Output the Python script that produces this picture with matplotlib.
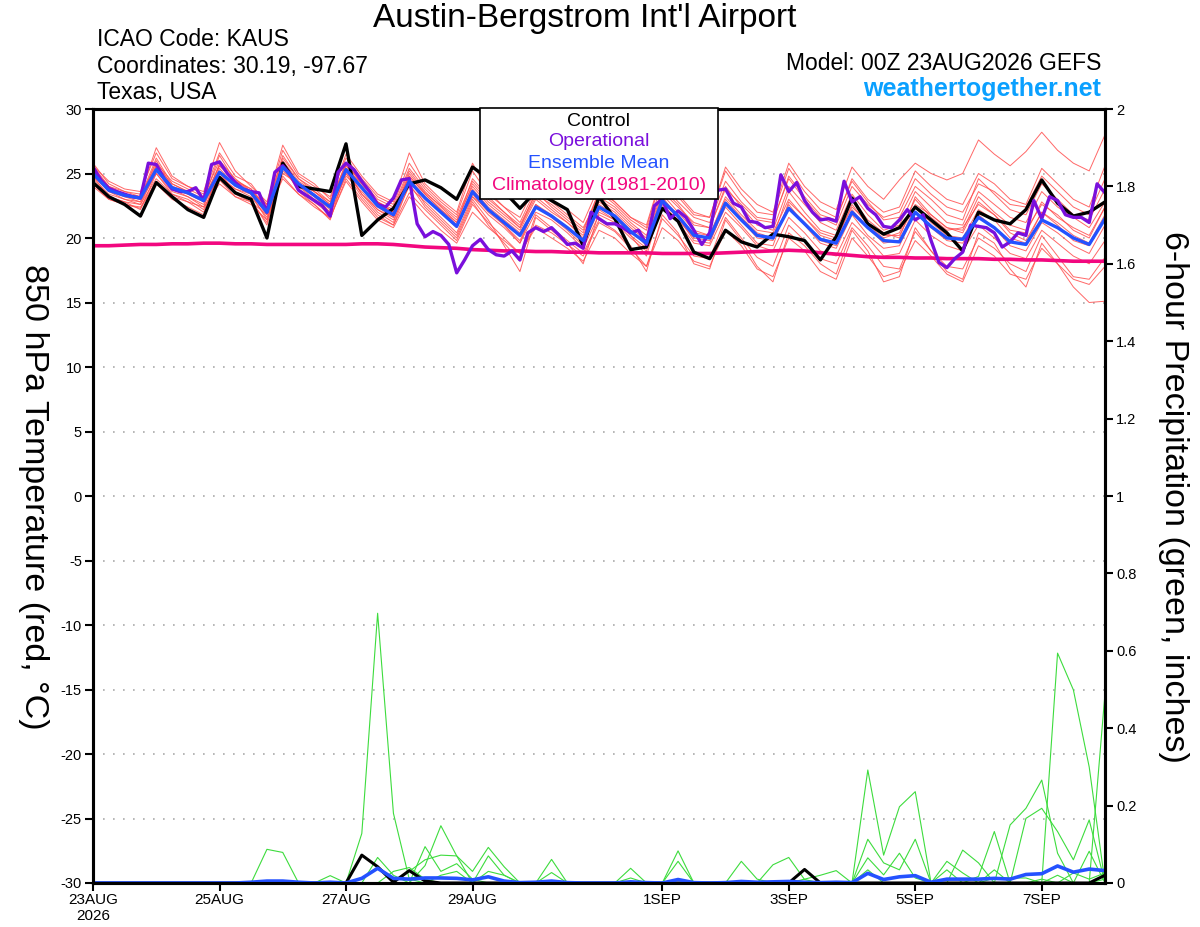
import numpy as np
import matplotlib.pyplot as plt
from matplotlib.patches import Rectangle

plt.rcParams['font.family'] = ['Liberation Sans', 'DejaVu Sans']

# forecast hours, 6-hourly (ensemble) and 3-hourly (operational)
hours = np.arange(0, 385, 6)
hours_op = np.arange(0, 385, 3)

# 850 hPa temperature (C)
control_t = [24.3, 23.2, 22.6, 21.7, 24.3, 23.2, 22.2, 21.6, 24.7, 23.5, 23.0, 20.0, 25.8, 24.0, 23.8, 23.6, 27.3,
             20.2, 21.4, 22.3, 24.2, 24.5, 23.9, 23.0, 25.5, 24.6, 23.6, 22.3, 23.6, 22.9, 22.2, 19.4, 23.2,
             21.5, 19.1, 19.3, 22.3, 21.3, 18.9, 18.4, 20.6, 19.7, 19.3, 20.3, 20.1, 19.8, 18.3, 20.1, 23.1,
             21.1, 20.3, 20.8, 22.4, 21.4, 20.4, 19.0, 22.0, 21.4, 21.1, 22.2, 24.5, 22.7, 21.7, 22.0, 22.8]

mean_t = [25.0, 23.7, 23.3, 23.1, 25.3, 23.9, 23.5, 22.9, 25.1, 24.1, 23.5, 22.0, 25.5, 24.2, 23.3, 22.4, 25.3,
          23.9, 22.5, 21.8, 24.4, 23.1, 22.0, 20.9, 23.6, 22.2, 21.2, 20.2, 22.4, 21.7, 20.8, 19.8, 22.4,
          21.7, 20.5, 19.6, 22.9, 21.7, 20.2, 20.0, 22.7, 21.4, 20.2, 20.0, 22.3, 21.1, 19.9, 19.6, 22.0,
          20.8, 19.8, 19.7, 22.0, 20.9, 20.0, 19.9, 21.6, 20.8, 19.7, 19.5, 21.4, 20.8, 20.0, 19.5, 21.5]

oper_t = [25.5, 24.5, 23.85, 23.6, 23.4, 23.2, 23.1, 25.8, 25.7, 24.6, 23.8, 23.6, 23.6, 23.9, 22.9, 25.7,
          25.9, 25.0, 24.3, 23.8, 23.6, 23.5, 22.0, 25.1, 25.6, 24.9, 23.7, 23.3, 22.9, 22.5, 21.7, 25.1,
          25.8, 25.3, 24.4, 23.6, 22.6, 22.4, 23.1, 24.5, 24.6, 21.1, 20.1, 20.5, 20.2, 19.5, 17.3, 18.3,
          19.4, 19.9, 19.1, 18.7, 18.6, 19.0, 18.3, 20.4, 20.8, 20.5, 20.8, 20.2, 19.5, 19.6, 19.2, 22.0,
          21.5, 21.1, 21.1, 20.8, 20.4, 20.6, 19.5, 22.5, 23.0, 21.5, 22.1, 21.6, 20.6, 19.5, 20.4, 23.7,
          23.8, 22.7, 22.4, 21.3, 21.2, 20.8, 20.9, 24.9, 23.6, 24.3, 22.9, 22.0, 21.4, 21.5, 21.3, 24.4,
          22.8, 23.2, 22.3, 21.8, 20.9, 20.8, 21.4, 22.2, 21.4, 21.8, 19.8, 18.1, 17.7, 18.4, 18.9, 21.0,
          20.9, 20.8, 20.4, 19.3, 19.7, 20.4, 20.2, 22.9, 21.5, 23.2, 22.9, 21.8, 21.6, 21.6, 21.2, 24.2,
          23.5]

clim_t = [19.4, 19.4, 19.45, 19.5, 19.5, 19.55, 19.55, 19.6, 19.6, 19.55, 19.55, 19.5, 19.5, 19.5, 19.5, 19.5, 19.5,
          19.55, 19.55, 19.5, 19.4, 19.3, 19.25, 19.2, 19.1, 19.05, 19.0, 19.0, 18.95, 18.95, 18.9, 18.9, 18.85,
          18.85, 18.85, 18.85, 18.8, 18.8, 18.8, 18.8, 18.85, 18.9, 18.95, 19.0, 19.05, 19.0, 18.85, 18.75, 18.65,
          18.55, 18.5, 18.5, 18.45, 18.45, 18.4, 18.4, 18.4, 18.35, 18.35, 18.3, 18.3, 18.25, 18.2, 18.2, 18.2]

# ensemble members (red)
mem01 = [25.8, 24.2, 23.6, 23.4, 27.0, 24.8, 24.0, 23.6, 27.4, 25.2, 24.0, 22.8, 27.2, 25.0, 24.2, 23.0, 26.5,
         24.8, 23.4, 22.8, 26.6, 24.2, 23.0, 22.0, 25.8, 23.6, 22.4, 21.6, 24.2, 23.0, 22.2, 21.2, 24.0,
         22.8, 21.6, 21.0, 25.0, 23.4, 22.0, 21.6, 25.5, 23.8, 22.6, 22.0, 25.8, 24.0, 22.8, 22.2, 25.5,
         24.0, 23.0, 24.5, 25.8, 25.0, 24.5, 25.0, 27.6, 26.5, 25.6, 26.7, 28.2, 26.8, 25.8, 25.2, 28.0]
mem02 = [24.0, 23.0, 22.6, 22.3, 24.2, 23.0, 22.4, 21.8, 24.5, 23.2, 22.6, 21.4, 24.8, 23.4, 22.6, 21.5, 24.6,
         23.0, 21.6, 21.0, 23.5, 22.2, 21.0, 19.8, 22.6, 21.2, 20.0, 18.8, 21.0, 20.4, 19.5, 18.6, 21.2,
         20.5, 19.2, 17.8, 21.5, 20.2, 18.6, 18.4, 21.6, 20.0, 18.5, 17.8, 21.0, 19.8, 18.4, 18.0, 20.8,
         19.4, 17.8, 17.6, 20.5, 19.0, 17.8, 17.6, 20.0, 19.2, 18.0, 17.4, 20.2, 18.6, 17.0, 16.8, 18.5]
mem03 = [25.2, 23.8, 23.4, 23.0, 26.0, 24.0, 23.6, 23.0, 25.6, 24.5, 23.8, 22.2, 26.4, 24.6, 23.6, 22.6, 25.8,
         24.2, 22.8, 22.0, 25.0, 23.5, 22.5, 21.4, 24.0, 22.6, 21.6, 20.6, 23.0, 22.0, 21.2, 20.0, 22.8,
         22.0, 20.8, 19.8, 23.4, 22.0, 20.6, 20.2, 23.2, 21.8, 20.6, 20.4, 23.0, 21.6, 20.2, 19.8, 22.6,
         21.0, 20.0, 20.4, 23.0, 21.6, 20.6, 20.8, 22.6, 21.8, 20.6, 20.4, 22.8, 21.6, 20.8, 20.2, 22.4]
mem04 = [24.6, 23.4, 23.0, 22.8, 25.0, 23.6, 23.2, 22.6, 24.8, 23.8, 23.2, 21.6, 25.2, 24.0, 23.0, 22.0, 24.8,
         23.6, 22.2, 21.4, 24.0, 22.8, 21.6, 20.4, 23.2, 21.8, 20.8, 19.6, 22.0, 21.4, 20.4, 19.2, 21.8,
         21.2, 20.0, 19.0, 22.4, 21.2, 19.6, 19.4, 22.0, 20.8, 19.4, 19.0, 21.6, 20.4, 19.0, 18.6, 21.2,
         20.0, 18.6, 18.8, 21.4, 20.2, 19.4, 19.0, 21.0, 20.0, 18.8, 18.4, 20.6, 19.6, 18.6, 18.0, 19.8]
mem05 = [25.4, 24.0, 23.4, 23.2, 25.8, 24.4, 23.8, 23.2, 26.0, 24.6, 23.6, 22.4, 26.0, 24.4, 23.6, 22.8, 25.6,
         24.4, 23.0, 22.4, 25.4, 23.8, 22.6, 21.6, 24.4, 23.0, 22.0, 21.0, 23.4, 22.6, 21.6, 20.6, 23.6,
         22.6, 21.4, 20.6, 24.2, 22.8, 21.6, 21.2, 24.4, 22.8, 21.6, 21.4, 24.6, 23.0, 21.6, 21.0, 24.0,
         22.6, 21.6, 22.0, 24.6, 23.4, 22.4, 22.0, 24.2, 23.6, 22.6, 22.4, 24.8, 23.6, 22.4, 21.8, 24.6]
mem06 = [24.8, 23.2, 22.8, 22.6, 24.6, 23.4, 23.0, 22.2, 25.0, 23.6, 23.0, 21.0, 25.4, 23.8, 22.8, 21.8, 25.0,
         23.2, 21.8, 21.0, 24.2, 22.4, 21.2, 20.0, 22.8, 21.0, 19.6, 18.2, 21.8, 20.8, 19.8, 18.8, 21.4,
         20.6, 19.4, 17.4, 21.8, 20.4, 18.0, 17.6, 21.4, 19.8, 17.8, 16.6, 20.4, 19.4, 18.0, 17.2, 20.6,
         19.0, 16.6, 17.0, 20.8, 19.0, 17.4, 16.8, 20.4, 19.6, 17.6, 16.2, 19.6, 18.0, 16.2, 15.0, 15.1]
mem07 = [25.6, 24.4, 23.8, 23.6, 26.6, 24.6, 24.0, 23.4, 26.6, 24.8, 24.2, 22.6, 26.8, 24.8, 24.0, 23.2, 26.2,
         24.6, 23.2, 22.6, 25.8, 24.0, 22.8, 21.8, 25.2, 23.4, 22.4, 21.2, 23.8, 22.8, 21.8, 20.8, 23.2,
         22.4, 21.2, 20.2, 23.8, 22.6, 21.0, 20.8, 24.0, 22.4, 21.0, 20.6, 24.0, 22.6, 21.2, 20.6, 23.4,
         21.8, 20.6, 21.0, 23.6, 22.4, 21.2, 21.0, 23.6, 22.6, 21.6, 21.2, 23.6, 22.4, 21.6, 20.8, 22.8]
mem08 = [24.4, 23.2, 22.8, 22.2, 25.0, 23.4, 22.8, 22.0, 25.2, 23.4, 22.8, 21.2, 25.6, 23.6, 22.6, 21.4, 25.2,
         23.4, 22.0, 21.2, 24.6, 22.6, 21.4, 20.2, 23.0, 21.4, 19.4, 17.4, 21.6, 20.6, 19.6, 18.0, 22.0,
         21.4, 20.2, 18.6, 22.8, 21.6, 19.8, 19.6, 22.6, 21.4, 20.0, 19.8, 22.6, 21.0, 19.6, 19.2, 21.8,
         20.2, 19.2, 19.4, 22.0, 20.8, 19.8, 19.6, 21.8, 20.8, 19.4, 19.0, 21.2, 20.4, 19.4, 18.8, 21.0]
mem09 = [25.0, 23.6, 23.2, 23.0, 25.4, 23.8, 23.4, 22.8, 24.6, 23.8, 23.4, 22.0, 25.0, 24.2, 23.4, 22.4, 25.0,
         23.8, 22.4, 21.6, 24.4, 23.0, 22.0, 21.0, 23.8, 22.4, 21.4, 20.4, 22.6, 21.8, 20.8, 19.8, 22.6,
         21.8, 20.6, 19.4, 23.0, 21.8, 20.2, 20.0, 22.8, 21.4, 20.2, 20.0, 22.4, 21.2, 19.8, 19.4, 22.2,
         20.8, 19.6, 19.8, 22.4, 21.2, 20.2, 20.0, 22.2, 21.4, 20.0, 19.6, 22.0, 21.0, 19.8, 19.4, 21.6]
mem10 = [25.2, 23.8, 23.2, 22.8, 25.6, 24.2, 23.6, 22.8, 25.4, 24.0, 23.4, 21.8, 25.8, 24.2, 23.2, 22.2, 25.6,
         24.0, 22.6, 22.0, 24.8, 23.4, 22.2, 21.2, 24.2, 22.8, 21.8, 20.8, 23.2, 22.2, 21.2, 20.2, 23.0,
         22.2, 21.0, 20.0, 23.6, 22.4, 21.2, 20.8, 23.8, 22.6, 21.4, 21.2, 24.8, 23.2, 21.8, 21.4, 24.6,
         23.0, 22.0, 22.4, 25.2, 24.0, 23.0, 22.6, 25.0, 24.2, 23.0, 22.6, 25.4, 24.2, 23.0, 22.4, 25.6]
mem11 = [24.2, 23.0, 22.6, 22.4, 24.4, 23.2, 22.8, 22.4, 24.2, 23.2, 22.8, 21.8, 24.6, 23.4, 22.4, 21.6, 24.4,
         22.8, 21.4, 20.8, 23.2, 21.8, 20.6, 19.6, 22.0, 20.8, 19.8, 18.8, 20.8, 20.0, 19.2, 18.2, 20.6,
         20.0, 18.8, 17.8, 20.8, 19.8, 18.2, 17.8, 20.6, 19.4, 17.6, 17.0, 20.0, 19.0, 17.4, 16.8, 20.0,
         18.6, 17.0, 17.4, 19.8, 18.6, 17.2, 16.6, 19.4, 18.6, 17.2, 16.8, 19.2, 18.0, 16.8, 16.4, 17.8]
mem12 = [25.4, 23.8, 23.4, 23.2, 26.2, 24.2, 23.6, 23.0, 26.4, 24.4, 23.6, 22.6, 26.2, 24.6, 23.8, 22.8, 25.8,
         24.2, 22.8, 22.2, 25.2, 23.6, 22.4, 21.2, 24.6, 23.2, 22.0, 20.8, 23.6, 22.4, 21.4, 20.4, 23.6,
         22.8, 21.6, 20.8, 24.8, 23.2, 21.8, 21.6, 25.2, 23.4, 22.0, 21.8, 25.4, 23.6, 22.2, 21.6, 24.4,
         22.8, 21.4, 21.6, 24.0, 23.0, 21.8, 21.4, 24.6, 23.4, 22.2, 21.8, 24.2, 23.0, 21.8, 21.4, 23.8]
mem13 = [24.8, 23.6, 23.0, 22.6, 25.2, 23.8, 23.2, 22.4, 25.8, 24.2, 23.4, 21.4, 25.4, 24.0, 23.2, 22.0, 25.4,
         23.4, 22.2, 21.6, 24.6, 23.2, 22.0, 20.8, 23.4, 22.0, 21.0, 19.8, 22.4, 21.6, 20.6, 19.4, 22.2,
         21.4, 20.2, 19.2, 22.6, 21.4, 20.0, 19.8, 22.4, 21.0, 19.6, 19.4, 22.8, 21.6, 20.4, 20.0, 22.4,
         21.2, 20.2, 20.2, 22.6, 21.8, 20.8, 20.4, 22.8, 21.8, 20.4, 19.8, 22.0, 21.2, 20.2, 19.6, 21.8]
mem14 = [25.6, 24.0, 23.6, 23.2, 25.6, 24.0, 23.4, 23.0, 25.6, 24.4, 23.8, 22.4, 25.6, 24.2, 23.6, 22.6, 25.4,
         24.2, 22.8, 22.0, 24.8, 23.4, 22.2, 21.0, 23.2, 22.2, 21.0, 19.6, 22.6, 21.6, 20.8, 19.6, 22.4,
         21.6, 20.4, 19.6, 23.2, 21.6, 20.4, 20.2, 23.0, 21.6, 20.4, 20.0, 23.6, 22.0, 20.6, 20.2, 23.0,
         21.4, 20.4, 20.0, 23.2, 21.8, 20.8, 20.6, 23.2, 22.0, 21.0, 20.6, 22.6, 21.8, 20.6, 20.0, 22.4]
members_t = [mem01, mem02, mem03, mem04, mem05, mem06, mem07,
             mem08, mem09, mem10, mem11, mem12, mem13, mem14]

# 6-hour precipitation (inches)
control_p = [0, 0, 0, 0, 0, 0, 0, 0, 0, 0, 0, 0, 0, 0, 0, 0, 0,
             0.072, 0.042, 0.002, 0.032, 0.005, 0, 0, 0, 0, 0, 0, 0, 0, 0, 0, 0,
             0, 0, 0, 0, 0, 0, 0, 0, 0, 0, 0, 0, 0.035, 0, 0, 0,
             0, 0, 0, 0, 0, 0, 0, 0, 0, 0, 0, 0, 0, 0, 0, 0.02]
mean_p = [0, 0, 0, 0, 0, 0, 0, 0, 0, 0, 0.002, 0.005, 0.005, 0.002, 0, 0.002, 0,
          0.012, 0.038, 0.012, 0.01, 0.013, 0.013, 0.012, 0.008, 0.016, 0.005, 0.001, 0.002, 0.005, 0.001, 0, 0,
          0, 0.003, 0.001, 0, 0.009, 0.001, 0, 0.001, 0.004, 0.002, 0.003, 0.004, 0.002, 0.001, 0.002, 0.001,
          0.025, 0.009, 0.016, 0.019, 0.002, 0.01, 0.01, 0.01, 0.012, 0.01, 0.022, 0.024, 0.044, 0.028, 0.036, 0.032]

pm01 = [0, 0, 0, 0, 0, 0, 0, 0, 0, 0, 0, 0.087, 0.079, 0, 0, 0, 0,
        0, 0, 0, 0, 0, 0, 0, 0, 0, 0, 0, 0, 0, 0, 0, 0,
        0, 0, 0, 0, 0, 0, 0, 0, 0, 0, 0, 0, 0, 0, 0, 0,
        0.292, 0.072, 0.197, 0.236, 0, 0, 0, 0, 0.034, 0, 0, 0, 0.594, 0.499, 0.30, 0]
pm02 = [0, 0, 0, 0, 0, 0, 0, 0, 0, 0, 0, 0, 0, 0, 0, 0.019, 0,
        0.128, 0.697, 0.18, 0.01, 0, 0, 0, 0, 0, 0, 0, 0, 0, 0, 0, 0,
        0, 0, 0, 0, 0, 0, 0, 0, 0, 0, 0, 0, 0, 0, 0, 0,
        0.113, 0.052, 0.034, 0.113, 0, 0, 0, 0, 0, 0, 0.167, 0.193, 0.133, 0.06, 0.163, 0]
pm03 = [0, 0, 0, 0, 0, 0, 0, 0, 0, 0, 0, 0, 0, 0, 0, 0, 0,
        0, 0.066, 0.02, 0, 0.045, 0.148, 0.07, 0, 0, 0, 0, 0, 0, 0, 0, 0,
        0, 0, 0, 0, 0, 0, 0, 0, 0, 0, 0, 0, 0, 0, 0, 0,
        0.065, 0.021, 0.077, 0.013, 0, 0, 0.085, 0.052, 0, 0, 0, 0, 0, 0, 0, 0.49]
pm04 = [0, 0, 0, 0, 0, 0, 0, 0, 0, 0, 0, 0, 0, 0, 0, 0, 0,
        0, 0, 0, 0, 0.094, 0.03, 0.05, 0.01, 0, 0, 0, 0, 0.061, 0, 0, 0,
        0, 0, 0, 0, 0, 0, 0, 0, 0, 0, 0, 0, 0, 0, 0, 0,
        0.034, 0, 0, 0, 0, 0.056, 0.026, 0, 0, 0.150, 0.193, 0.266, 0.077, 0, 0, 0]
pm05 = [0, 0, 0, 0, 0, 0, 0, 0, 0, 0, 0, 0, 0, 0, 0, 0, 0,
        0, 0, 0, 0.03, 0.06, 0.072, 0.07, 0.03, 0.092, 0.042, 0, 0, 0, 0, 0, 0,
        0, 0, 0, 0, 0, 0, 0, 0, 0, 0, 0, 0, 0, 0, 0, 0,
        0, 0, 0, 0, 0, 0.034, 0, 0.017, 0.133, 0, 0, 0, 0, 0, 0.082, 0]
pm06 = [0, 0, 0, 0, 0, 0, 0, 0, 0, 0, 0, 0, 0, 0, 0, 0, 0,
        0, 0, 0, 0, 0, 0, 0, 0, 0.07, 0.02, 0, 0, 0.027, 0, 0, 0,
        0, 0.038, 0, 0, 0, 0, 0, 0, 0, 0, 0, 0, 0, 0, 0, 0,
        0, 0, 0, 0, 0, 0, 0, 0, 0.013, 0.013, 0.013, 0, 0, 0.026, 0.01, 0.026]
pm07 = [0, 0, 0, 0, 0, 0, 0, 0, 0, 0, 0, 0, 0, 0, 0, 0, 0,
        0, 0, 0, 0, 0, 0, 0, 0, 0, 0, 0, 0, 0, 0, 0, 0,
        0, 0.013, 0, 0, 0.083, 0, 0, 0, 0, 0, 0, 0, 0, 0, 0, 0,
        0, 0, 0, 0, 0, 0, 0, 0, 0, 0, 0, 0.01, 0, 0, 0, 0.01]
pm08 = [0, 0, 0, 0, 0, 0, 0, 0, 0, 0, 0, 0, 0, 0, 0, 0, 0,
        0, 0, 0, 0, 0, 0, 0, 0, 0, 0, 0, 0, 0, 0, 0, 0,
        0, 0, 0, 0, 0.056, 0, 0, 0, 0.056, 0.01, 0, 0, 0, 0, 0, 0,
        0, 0, 0, 0, 0, 0, 0, 0, 0, 0, 0, 0, 0, 0, 0, 0]
pm09 = [0, 0, 0, 0, 0, 0, 0, 0, 0, 0, 0, 0, 0, 0, 0, 0, 0,
        0, 0, 0, 0, 0, 0, 0, 0, 0, 0, 0, 0, 0, 0, 0, 0,
        0, 0, 0, 0, 0, 0, 0, 0, 0, 0, 0.047, 0.066, 0.009, 0, 0, 0,
        0, 0, 0, 0, 0, 0, 0, 0, 0, 0, 0, 0, 0, 0, 0, 0]
pm10 = [0, 0, 0, 0, 0, 0, 0, 0, 0, 0, 0, 0, 0, 0, 0, 0, 0,
        0, 0, 0, 0, 0, 0, 0, 0, 0, 0, 0, 0, 0, 0, 0, 0,
        0, 0, 0, 0, 0, 0, 0, 0, 0, 0, 0, 0, 0.01, 0.02, 0.032, 0,
        0, 0, 0, 0, 0, 0, 0, 0, 0, 0, 0, 0, 0, 0, 0, 0]
pm11 = [0, 0, 0, 0, 0, 0, 0, 0, 0, 0, 0, 0, 0, 0, 0, 0, 0,
        0, 0, 0.03, 0.04, 0.01, 0, 0, 0, 0, 0, 0, 0, 0, 0, 0, 0,
        0, 0, 0, 0, 0, 0, 0, 0, 0, 0, 0, 0, 0, 0, 0, 0,
        0, 0, 0, 0, 0, 0, 0, 0, 0, 0, 0, 0, 0.02, 0, 0, 0]
pm12 = [0, 0, 0, 0, 0, 0, 0, 0, 0, 0, 0, 0, 0, 0, 0, 0, 0,
        0, 0, 0, 0, 0, 0.02, 0.03, 0, 0.03, 0.02, 0, 0, 0, 0, 0, 0,
        0, 0, 0, 0, 0, 0, 0, 0, 0, 0, 0, 0, 0, 0, 0, 0,
        0, 0, 0, 0, 0, 0, 0, 0, 0, 0, 0, 0, 0, 0, 0, 0]
members_p = [pm01, pm02, pm03, pm04, pm05, pm06, pm07, pm08, pm09, pm10, pm11, pm12]

# axis ticks
x_ticks = [0, 48, 96, 144, 216, 264, 312, 360]
x_labels = ['23AUG\n2026', '25AUG', '27AUG', '29AUG', '1SEP', '3SEP', '5SEP', '7SEP']
t_ticks = list(range(-30, 31, 5))
p_ticks = [0, 0.2, 0.4, 0.6, 0.8, 1, 1.2, 1.4, 1.6, 1.8, 2]
p_labels = ['0', '0.2', '0.4', '0.6', '0.8', '1', '1.2', '1.4', '1.6', '1.8', '2']

W, H = 1200, 927
fig = plt.figure(figsize=(W / 100, H / 100), dpi=100)
ax = fig.add_axes([93 / W, 1 - 883 / H, (1105 - 93) / W, (883 - 109) / H])

for m in members_t:
    ax.plot(hours, m, color='#ff4d4d', lw=0.7, alpha=0.85)
ax.plot(hours, clim_t, color='#f2077f', lw=2.6)
ax.plot(hours, control_t, color='black', lw=2.4)
ax.plot(hours_op, oper_t, color='#7a0fdc', lw=2.4)
ax.plot(hours, mean_t, color='#2452ff', lw=2.4)

ax.set_xlim(0, 384)
ax.set_ylim(-30, 30)
ax.set_yticks(t_ticks)
ax.set_yticklabels([str(t) for t in t_ticks])
ax.set_xticks(x_ticks)
ax.set_xticklabels(x_labels)
for y in t_ticks[1:-1]:
    ax.axhline(y, color='#aaaaaa', lw=1.2, ls=(0, (1, 5)), zorder=0)

ax2 = ax.twinx()
for m in members_p:
    ax2.plot(hours, m, color='#3ddc3d', lw=0.8)
ax2.plot(hours, control_p, color='black', lw=2.2)
ax2.plot(hours, mean_p, color='#2452ff', lw=2.6)
ax2.set_ylim(0, 2)
ax2.set_yticks(p_ticks)
ax2.set_yticklabels(p_labels)

for a in (ax, ax2):
    a.tick_params(axis='both', direction='out', length=6, width=1.5, labelsize=10.5, pad=2)
    for s in a.spines.values():
        s.set_linewidth(2.2)
ax.tick_params(axis='x', labelsize=11, pad=1)

# legend box
fig.add_artist(Rectangle((480 / W, 1 - 199 / H), 238 / W, 91 / H, transform=fig.transFigure,
                         facecolor='white', edgecolor='black', lw=1.2, zorder=5))
leg = [('Control', 'black', 121), ('Operational', '#7a0fdc', 142),
       ('Ensemble Mean', '#2452ff', 163), ('Climatology (1981-2010)', '#f2077f', 185)]
for txt, col, yy in leg:
    fig.text(599 / W, 1 - yy / H, txt, color=col, fontsize=14, ha='center', va='center', zorder=6)

# titles and labels
fig.text(585 / W, 1 - 19 / H, "Austin-Bergstrom Int'l Airport", fontsize=24, ha='center', va='center')
fig.text(97 / W, 1 - 40 / H, 'ICAO Code: KAUS', fontsize=16.5, ha='left', va='center')
fig.text(97 / W, 1 - 66 / H, 'Coordinates: 30.19, -97.67', fontsize=16.5, ha='left', va='center')
fig.text(97 / W, 1 - 93 / H, 'Texas, USA', fontsize=16.5, ha='left', va='center')
fig.text(1101 / W, 1 - 64 / H, 'Model: 00Z 23AUG2026 GEFS', fontsize=16.5, ha='right', va='center')
fig.text(1101 / W, 1 - 89 / H, 'weathertogether.net', fontsize=18, ha='right', va='center',
         color='#0aa0ff', fontweight='bold')
fig.text(33 / W, 1 - 497 / H, '850 hPa Temperature (red, °C)', fontsize=24.5, rotation=270,
         ha='center', va='center')
fig.text(1173 / W, 1 - 497 / H, '6-hour Precipitation (green, inches)', fontsize=24.5, rotation=270,
         ha='center', va='center')

plt.savefig('out.png', dpi=100)
